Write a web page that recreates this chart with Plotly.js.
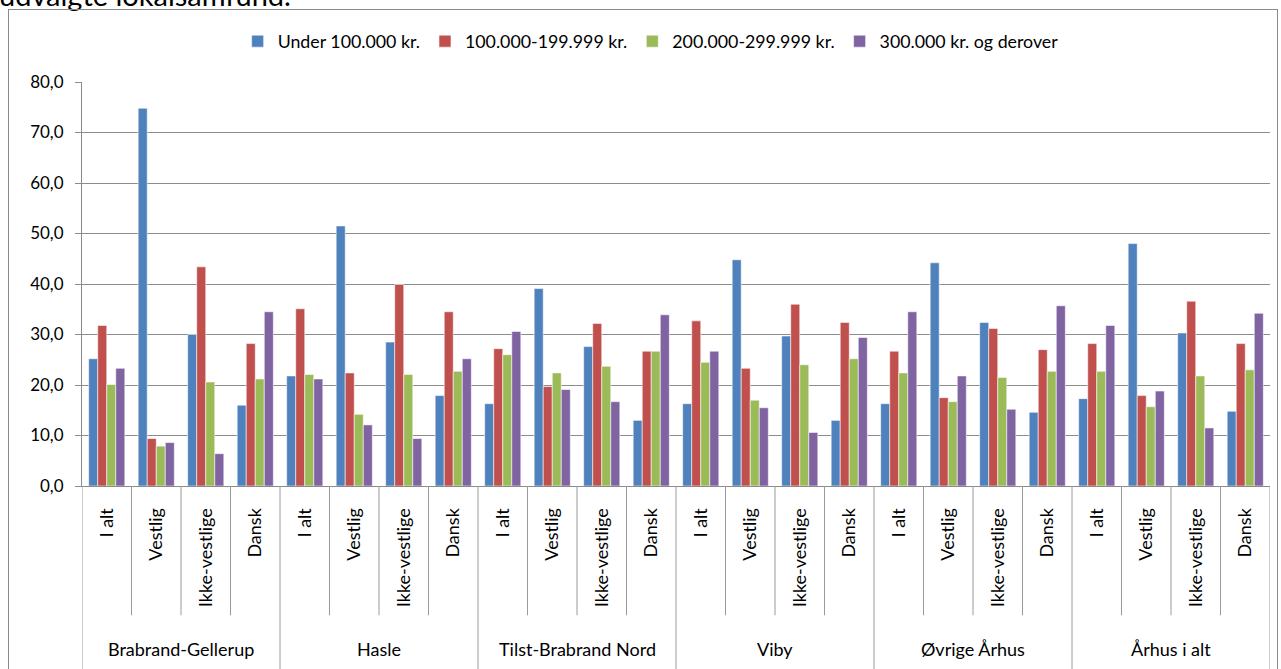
<!DOCTYPE html>
<html>
<head>
<meta charset="utf-8">
<script src="https://cdn.plot.ly/plotly-3.0.1.min.js"></script>
<style>
  html, body { margin: 0; padding: 0; background: #fff; overflow: hidden; }
  #wrap { position: relative; width: 1281px; height: 669px; overflow: hidden; }
  #frame { position: absolute; left: 8px; top: 9px; width: 1270px; height: 700px; border: 1px solid #8a8a8a; box-sizing: border-box; }
  #topline { position: absolute; left: -1px; top: -20px; font-family: Lato, 'Liberation Sans', sans-serif; font-size: 29px; line-height: 29px; color: #000; white-space: nowrap; }
  #chart { position: absolute; left: 0; top: 0; width: 1281px; height: 669px; }
</style>
</head>
<body>
<div id="wrap">
  <div id="topline">udvalgte lokalsamfund.</div>
  <div id="frame"></div>
  <div id="chart"></div>
</div>
<script>
const groups = ['Brabrand-Gellerup', 'Hasle', 'Tilst-Brabrand Nord', 'Viby', 'Øvrige Århus', 'Århus i alt'];
const subcats = ['I alt', 'Vestlig', 'Ikke-vestlige', 'Dansk'];
const seriesNames = ['Under 100.000 kr.', '100.000-199.999 kr.', '200.000-299.999 kr.', '300.000 kr. og derover'];
const seriesColors = ['#4F81BD', '#C0504D', '#9BBB59', '#8064A2'];

// values in order: group by group, each with I alt, Vestlig, Ikke-vestlige, Dansk
const under100 = [
  25.2, 74.8, 30.0, 16.0,
  21.8, 51.5, 28.5, 17.9,
  16.3, 39.1, 27.6, 13.0,
  16.3, 44.8, 29.7, 13.0,
  16.3, 44.2, 32.4, 14.6,
  17.3, 48.0, 30.3, 14.8
];
const from100to199 = [
  31.8, 9.4, 43.4, 28.2,
  35.1, 22.4, 39.9, 34.5,
  27.2, 19.7, 32.2, 26.7,
  32.7, 23.3, 36.0, 32.4,
  26.7, 17.5, 31.2, 27.0,
  28.2, 17.9, 36.6, 28.2
];
const from200to299 = [
  20.1, 7.9, 20.6, 21.2,
  22.1, 14.2, 22.1, 22.7,
  26.0, 22.4, 23.7, 26.7,
  24.5, 17.0, 24.0, 25.2,
  22.4, 16.7, 21.5, 22.7,
  22.7, 15.7, 21.8, 23.0
];
const from300 = [
  23.3, 8.6, 6.4, 34.5,
  21.2, 12.1, 9.4, 25.2,
  30.6, 19.1, 16.7, 33.9,
  26.7, 15.5, 10.6, 29.4,
  34.5, 21.8, 15.2, 35.7,
  31.8, 18.8, 11.5, 34.2
];
const seriesValues = [under100, from100to199, from200to299, from300];

const xIdx = [];
const xText = [];
groups.forEach((g, gi) => subcats.forEach((s, si) => { xIdx.push(gi * subcats.length + si); xText.push(s); }));

const traces = seriesValues.map((vals, k) => ({
  type: 'bar',
  name: seriesNames[k],
  x: xIdx,
  y: vals,
  marker: { color: seriesColors[k], line: { color: 'rgba(255,255,255,0.55)', width: 1 } },
  hoverinfo: 'name+y'
}));

const FONT = 'Lato, "Liberation Sans", sans-serif';
const shapes = [];
const annotations = [];
const n = xIdx.length;
for (let b = 0; b <= n; b++) {
  const isGroup = (b % subcats.length === 0);
  shapes.push({
    type: 'line', xref: 'x', yref: 'paper',
    x0: b - 0.5, x1: b - 0.5,
    y0: 0, y1: isGroup ? -0.47 : -0.32,
    line: { color: '#9a9a9a', width: 1 },
    layer: 'above'
  });
}
groups.forEach((g, gi) => {
  annotations.push({
    xref: 'x', yref: 'paper',
    x: gi * subcats.length + (subcats.length - 1) / 2,
    y: -0.403, yanchor: 'middle', xanchor: 'center',
    text: g, showarrow: false,
    font: { family: FONT, size: 18, color: '#000' }
  });
});

const layout = {
  width: 1281, height: 669,
  margin: { l: 82, r: 11, t: 82, b: 183, pad: 0 },
  paper_bgcolor: 'rgba(0,0,0,0)',
  plot_bgcolor: 'rgba(0,0,0,0)',
  separators: ',.',
  barmode: 'group',
  bargap: 0.27,
  bargroupgap: 0,
  font: { family: FONT, size: 17, color: '#000' },
  showlegend: true,
  legend: {
    orientation: 'h', x: 0.131, xanchor: 'left', y: 1.1, yanchor: 'middle',
    font: { family: FONT, size: 17.8, color: '#000' },
    bgcolor: 'rgba(0,0,0,0)', itemclick: false, itemdoubleclick: false
  },
  xaxis: {
    range: [-0.5, n - 0.5],
    tickmode: 'array', tickvals: xIdx, ticktext: xText,
    tickangle: -90, ticks: '', ticklabelstandoff: 14,
    showgrid: false, zeroline: false,
    showline: true, linecolor: '#8a8a8a', linewidth: 1,
    tickfont: { family: FONT, size: 18, color: '#000' },
    fixedrange: true
  },
  yaxis: {
    range: [0, 80], dtick: 10, tick0: 0,
    tickformat: '.1f',
    ticks: 'outside', ticklen: 6, tickcolor: '#8a8a8a',
    ticklabelstandoff: 8,
    showgrid: true, gridcolor: '#8c8c8c', gridwidth: 1,
    zeroline: false,
    showline: true, linecolor: '#8a8a8a', linewidth: 1,
    tickfont: { family: FONT, size: 17, color: '#000' },
    fixedrange: true
  },
  shapes: shapes,
  annotations: annotations
};

Plotly.newPlot('chart', traces, layout, { displayModeBar: false, staticPlot: false });
</script>
</body>
</html>
